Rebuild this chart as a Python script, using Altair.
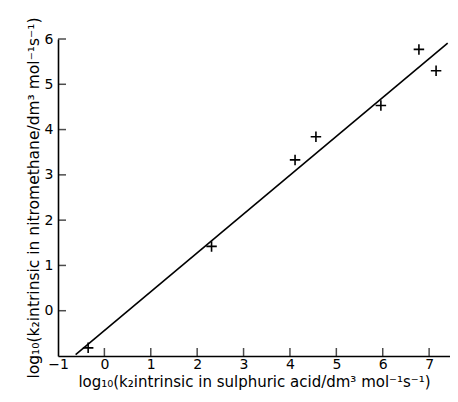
import altair as alt
import pandas as pd

# data
x_vals = [-0.35, 2.31, 4.11, 4.56, 5.96, 6.78, 7.15]
y_vals = [-0.82, 1.42, 3.33, 3.84, 4.53, 5.77, 5.30]
line_x = [-0.62, 7.40]
line_y = [-0.97, 5.91]
x_ticks = [-1, 0, 1, 2, 3, 4, 5, 6, 7]
y_ticks = [0, 1, 2, 3, 4, 5, 6]

pts = pd.DataFrame({"x": x_vals, "y": y_vals})
ln = pd.DataFrame({"x": line_x, "y": line_y})
xt = pd.DataFrame({"t": x_ticks[1:]})
yt = pd.DataFrame({"t": y_ticks})

FONT = "DejaVu Sans"
xs = alt.Scale(domain=[-1, 7.45], nice=False, zero=False)
ys = alt.Scale(domain=[-1, 6], nice=False, zero=False)

xaxis = alt.Axis(values=x_ticks, title="log₁₀(k₂intrinsic  in sulphuric acid/dm³ mol⁻¹s⁻¹)",
                 labelAngle=0, tickSize=0, labelPadding=1, labelFlush=False,
                 titleFontSize=15, titlePadding=3)
yaxis = alt.Axis(values=y_ticks, title="log₁₀(k₂intrinsic in  nitromethane/dm³ mol⁻¹s⁻¹)",
                 tickSize=0, labelPadding=5, labelFlush=False,
                 titleFontSize=15.5, titlePadding=3)

line = alt.Chart(ln).mark_line(color="black", strokeWidth=1.6).encode(
    x=alt.X("x:Q", scale=xs, axis=xaxis),
    y=alt.Y("y:Q", scale=ys, axis=yaxis),
)
points = alt.Chart(pts).mark_point(
    shape="M-1,0L1,0M0,-1L0,1", size=110, filled=False, color="black", strokeWidth=1.6, opacity=1
).encode(x=alt.X("x:Q", scale=xs), y=alt.Y("y:Q", scale=ys))

xtick = alt.Chart(xt).mark_tick(orient="vertical", size=8, yOffset=-4, thickness=1.5, color="black").encode(
    x=alt.X("t:Q", scale=xs), y=alt.datum(-1))
ytick = alt.Chart(yt).mark_tick(orient="horizontal", size=8, xOffset=4, thickness=1.5, color="black").encode(
    y=alt.Y("t:Q", scale=ys), x=alt.datum(-1))

chart = alt.layer(line, points, xtick, ytick).properties(
    width=392, height=317,
    autosize=alt.AutoSizeParams(type="none"),
    padding={"left": 50, "top": 31, "right": 0, "bottom": 38},
).configure_view(stroke=None).configure_axis(
    grid=False, domainColor="black", domainWidth=1.6,
    labelFont=FONT, labelFontSize=14, labelColor="black",
    titleFont=FONT, titleColor="black", titleFontWeight="normal",
)

chart.save("out.html", embed_options={"renderer": "svg", "actions": False})
